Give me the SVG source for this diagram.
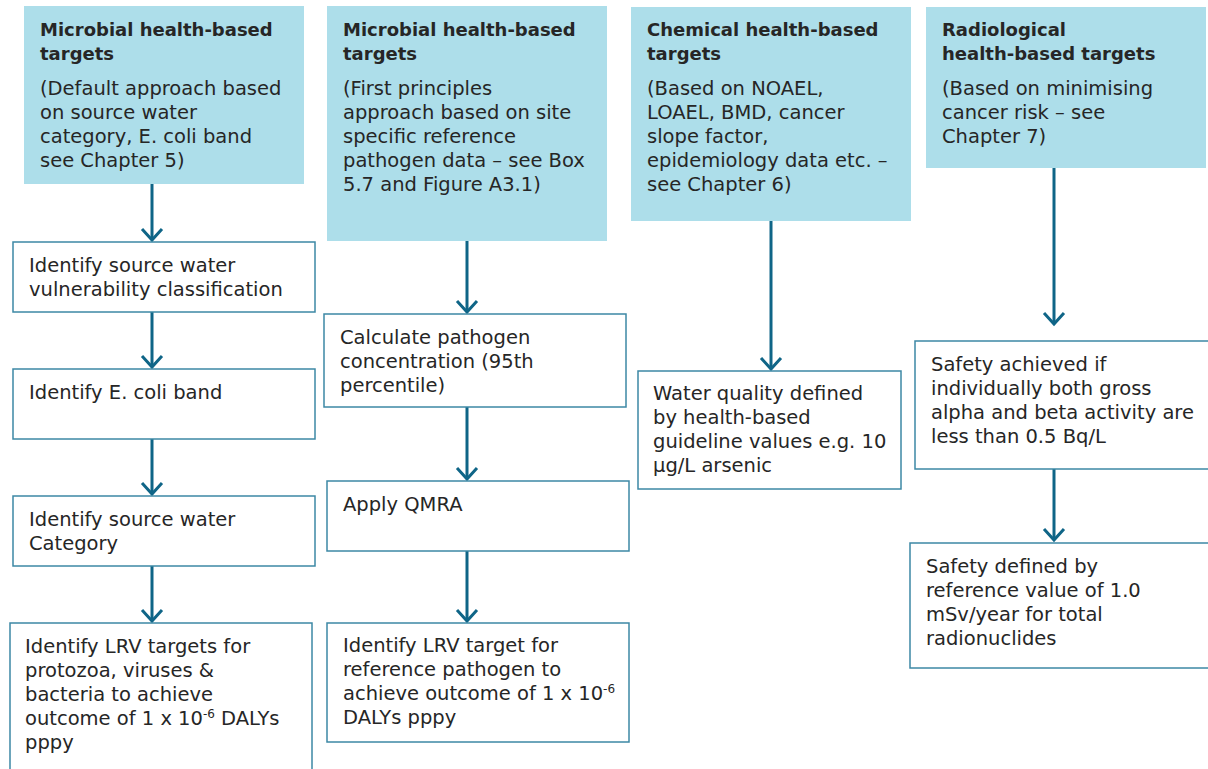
<svg xmlns="http://www.w3.org/2000/svg" width="1208" height="769" viewBox="0 0 1208 769">
<style>
.hdr{fill:#addeea;}
.box{fill:#ffffff;stroke:#3d88a5;stroke-width:1.5;}
text{font-family:"DejaVu Sans","Liberation Sans",sans-serif;fill:#262626;font-size:19.5px;}
.b{font-weight:bold;font-size:18px;}
.conn{stroke:#0f6587;stroke-width:3;fill:none;}
.sup{font-size:12px;}
</style>
<defs>
<marker id="arr" markerUnits="userSpaceOnUse" markerWidth="30" markerHeight="30" viewBox="-15 -15 30 30" refX="0" refY="0" orient="auto">
<path d="M-11,-10 L0,0 L-11,10" fill="none" stroke="#0f6587" stroke-width="3"/>
</marker>
</defs>
<rect width="1208" height="769" fill="#ffffff"/>

<g id="connectors">
<path class="conn" d="M152,184 V240" marker-end="url(#arr)"/>
<path class="conn" d="M152,312 V367" marker-end="url(#arr)"/>
<path class="conn" d="M152,439 V494" marker-end="url(#arr)"/>
<path class="conn" d="M152,566 V621" marker-end="url(#arr)"/>
<path class="conn" d="M467,241 V312" marker-end="url(#arr)"/>
<path class="conn" d="M467,407 V479" marker-end="url(#arr)"/>
<path class="conn" d="M467,551 V621" marker-end="url(#arr)"/>
<path class="conn" d="M771,221 V369" marker-end="url(#arr)"/>
<path class="conn" d="M1054,168 V324" marker-end="url(#arr)"/>
<path class="conn" d="M1054,469 V540" marker-end="url(#arr)"/>
</g>

<g id="h1">
<rect class="hdr" x="24" y="6" width="280" height="178"/>
<text class="b" x="40" y="36">Microbial health-based</text>
<text class="b" x="40" y="60">targets</text>
<text x="40" y="95">(Default approach based</text>
<text x="40" y="119">on source water</text>
<text x="40" y="143">category, E. coli band</text>
<text x="40" y="167">see Chapter 5)</text>
</g>

<g id="h2">
<rect class="hdr" x="327" y="6" width="280" height="235"/>
<text class="b" x="343" y="36">Microbial health-based</text>
<text class="b" x="343" y="60">targets</text>
<text x="343" y="95">(First principles</text>
<text x="343" y="119">approach based on site</text>
<text x="343" y="143">specific reference</text>
<text x="343" y="167">pathogen data – see Box</text>
<text x="343" y="191">5.7 and Figure A3.1)</text>
</g>

<g id="h3">
<rect class="hdr" x="631" y="7" width="280" height="214"/>
<text class="b" x="647" y="36">Chemical health-based</text>
<text class="b" x="647" y="60">targets</text>
<text x="647" y="95">(Based on NOAEL,</text>
<text x="647" y="119">LOAEL, BMD, cancer</text>
<text x="647" y="143">slope factor,</text>
<text x="647" y="167">epidemiology data etc. –</text>
<text x="647" y="191">see Chapter 6)</text>
</g>

<g id="h4">
<rect class="hdr" x="926" y="7" width="280" height="161"/>
<text class="b" x="942" y="36">Radiological</text>
<text class="b" x="942" y="60">health-based targets</text>
<text x="942" y="95">(Based on minimising</text>
<text x="942" y="119">cancer risk – see</text>
<text x="942" y="143">Chapter 7)</text>
</g>

<g id="n1a">
<rect class="box" x="13" y="242" width="302" height="70"/>
<text x="29" y="272">Identify source water</text>
<text x="29" y="296">vulnerability classification</text>
</g>

<g id="n1b">
<rect class="box" x="13" y="369" width="302" height="70"/>
<text x="29" y="399">Identify E. coli band</text>
</g>

<g id="n1c">
<rect class="box" x="13" y="496" width="302" height="70"/>
<text x="29" y="526">Identify source water</text>
<text x="29" y="550">Category</text>
</g>

<g id="n1d">
<rect class="box" x="10" y="623" width="302" height="160"/>
<text x="25" y="653">Identify LRV targets for</text>
<text x="25" y="677">protozoa, viruses &amp;</text>
<text x="25" y="701">bacteria to achieve</text>
<text x="25" y="725">outcome of 1 x 10<tspan class="sup" dy="-7">-6</tspan><tspan dy="7"> DALYs</tspan></text>
<text x="25" y="749">pppy</text>
</g>

<g id="n2a">
<rect class="box" x="324" y="314" width="302" height="93"/>
<text x="340" y="344">Calculate pathogen</text>
<text x="340" y="368">concentration (95th</text>
<text x="340" y="392">percentile)</text>
</g>

<g id="n2b">
<rect class="box" x="327" y="481" width="302" height="70"/>
<text x="343" y="511">Apply QMRA</text>
</g>

<g id="n2c">
<rect class="box" x="327" y="623" width="302" height="119"/>
<text x="343" y="652">Identify LRV target for</text>
<text x="343" y="676">reference pathogen to</text>
<text x="343" y="700">achieve outcome of 1 x 10<tspan class="sup" dy="-7">-6</tspan></text>
<text x="343" y="724">DALYs pppy</text>
</g>

<g id="n3a">
<rect class="box" x="638" y="371" width="263" height="118"/>
<text x="653" y="400">Water quality defined</text>
<text x="653" y="424">by health-based</text>
<text x="653" y="448">guideline values e.g. 10</text>
<text x="653" y="472">µg/L arsenic</text>
</g>

<g id="n4a">
<rect class="box" x="915" y="341" width="310" height="128"/>
<text x="931" y="371">Safety achieved if</text>
<text x="931" y="395">individually both gross</text>
<text x="931" y="419">alpha and beta activity are</text>
<text x="931" y="443">less than 0.5 Bq/L</text>
</g>

<g id="n4b">
<rect class="box" x="910" y="543" width="315" height="125"/>
<text x="926" y="573">Safety defined by</text>
<text x="926" y="597">reference value of 1.0</text>
<text x="926" y="621">mSv/year for total</text>
<text x="926" y="645">radionuclides</text>
</g>
</svg>
